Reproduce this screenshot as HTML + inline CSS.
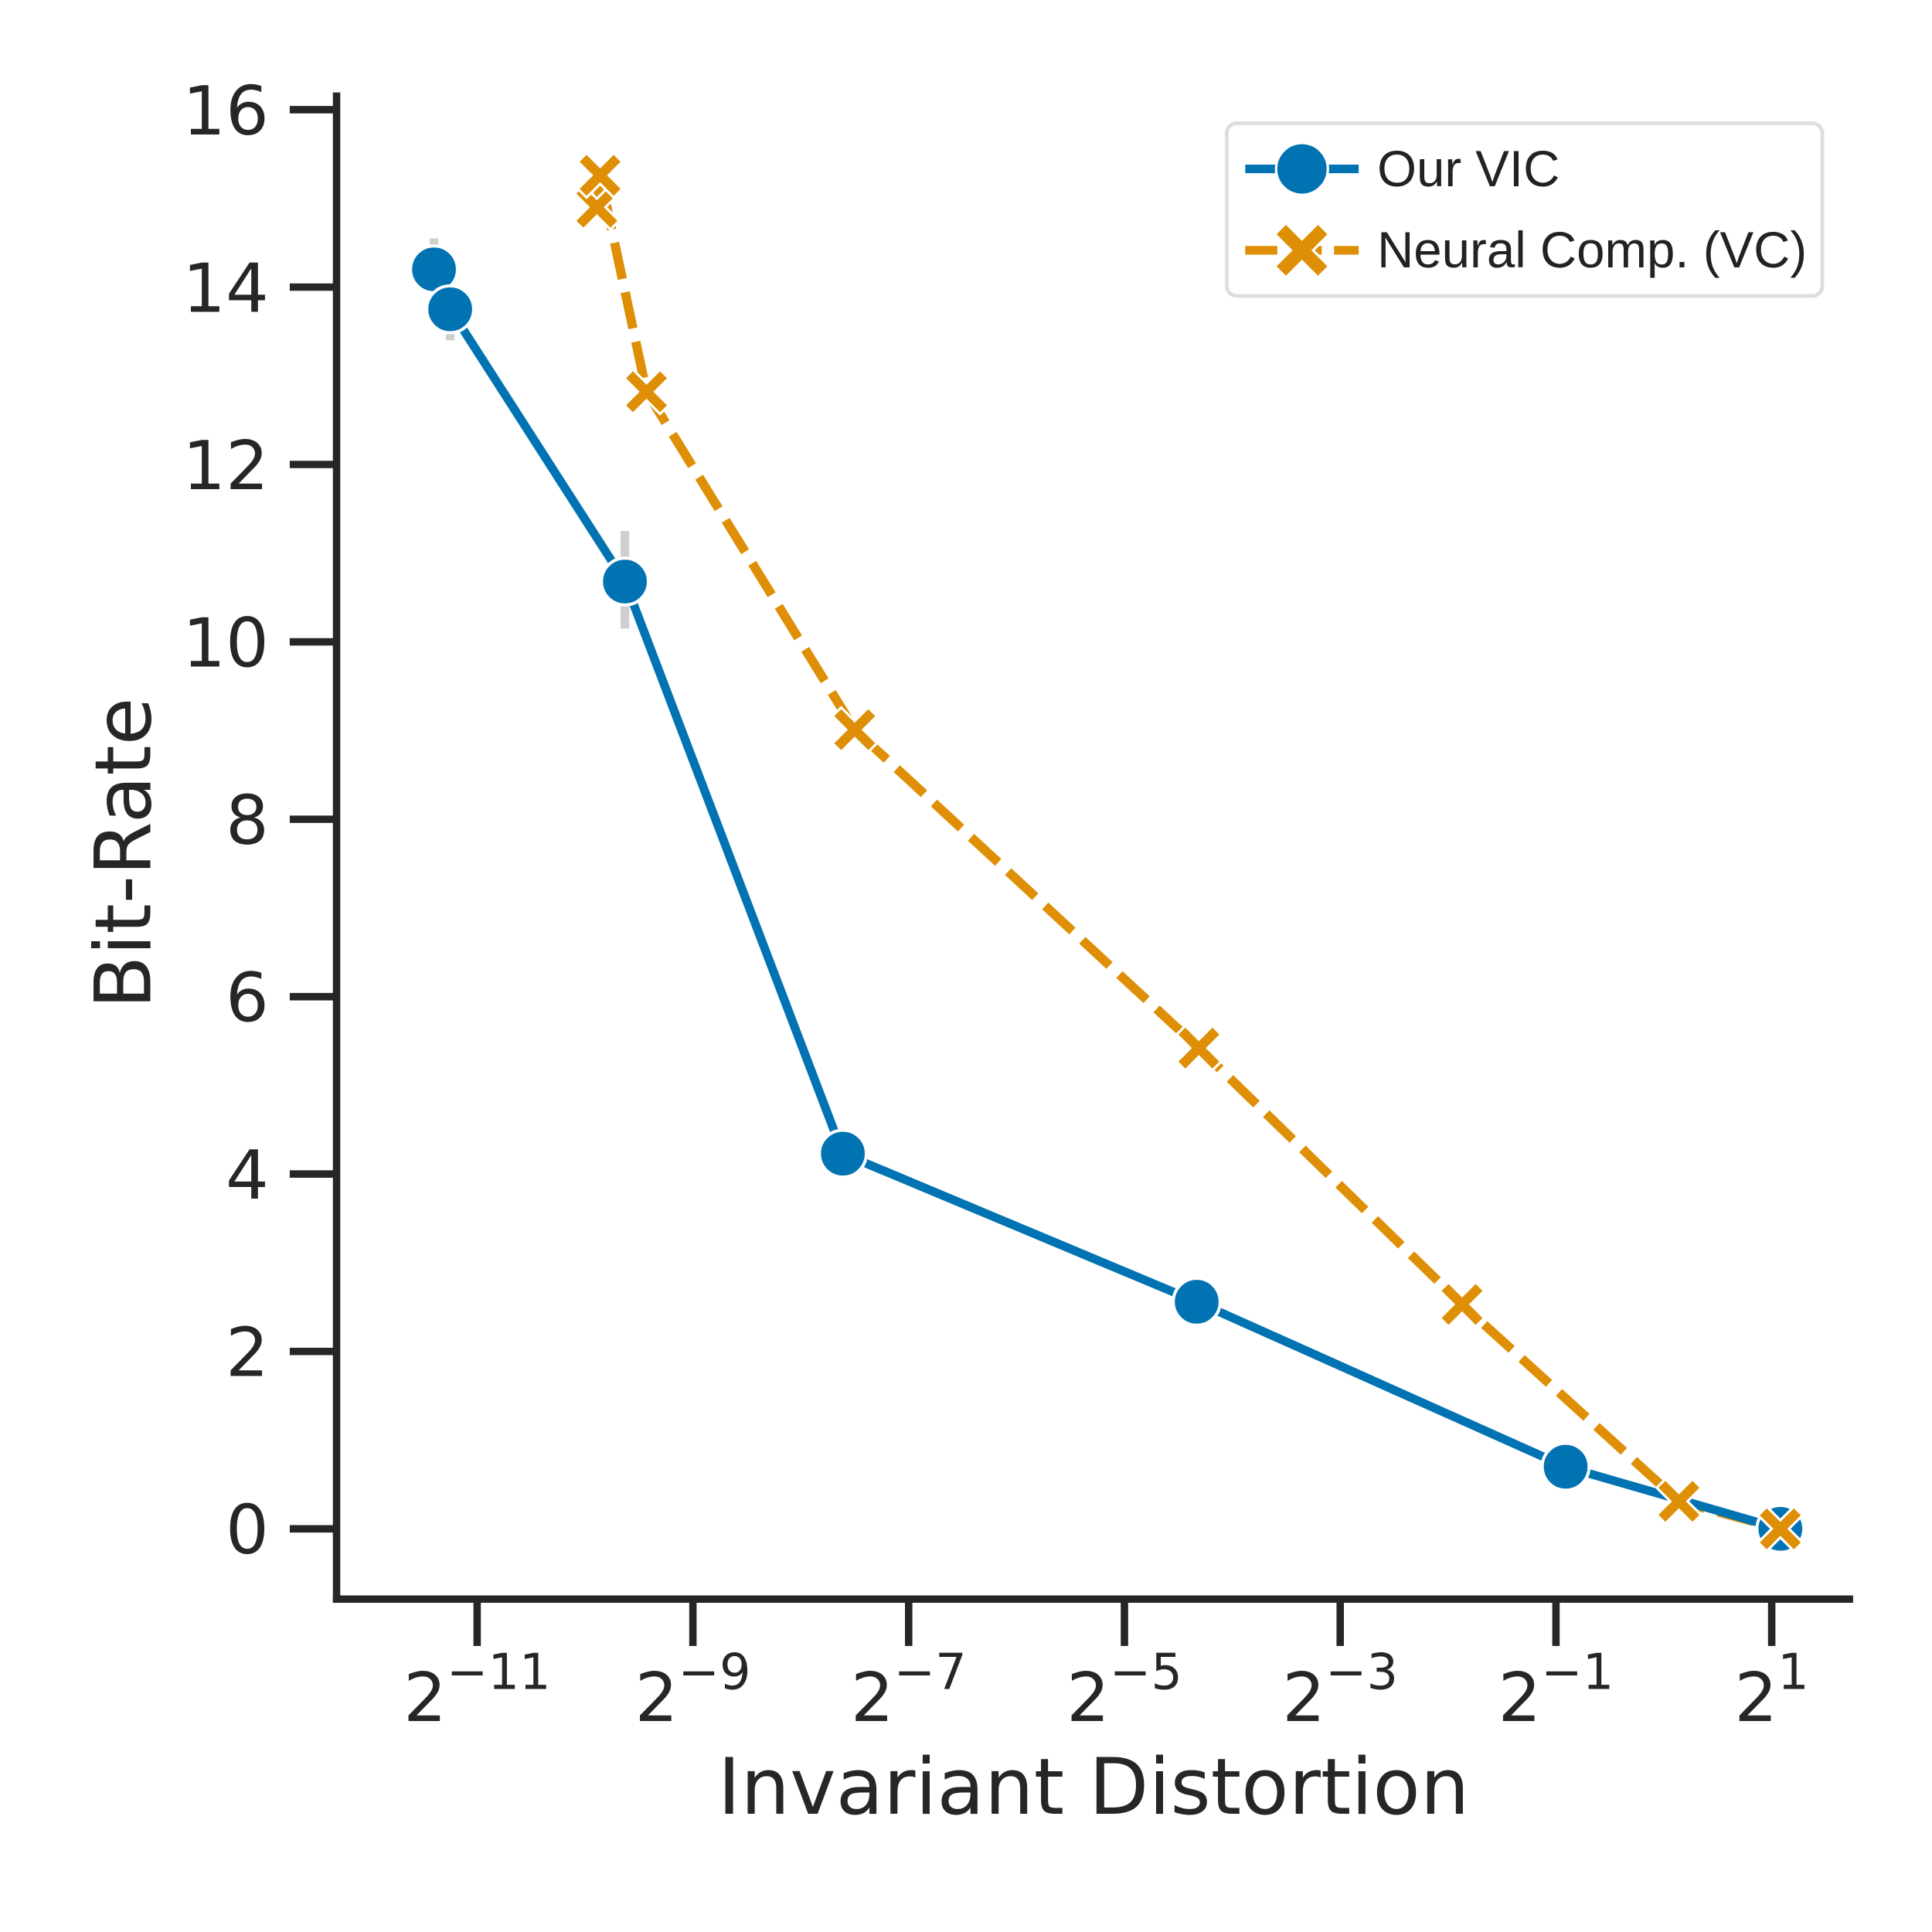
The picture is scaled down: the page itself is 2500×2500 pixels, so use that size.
<!DOCTYPE html>
<html><head><meta charset="utf-8"><style>
html,body{margin:0;padding:0;background:#fff;}
svg{display:block;}
</style></head><body>
<svg id="chart" width="2500" height="2500" viewBox="0 0 1567 1567" xmlns="http://www.w3.org/2000/svg">
<g id="axes"></g>
<g id="series"></g>
<g id="legend">
  <rect x="995" y="100" width="483" height="140" rx="8" fill="#fff" stroke="#ddd" stroke-width="3"/>
  <g>
    <line x1="1010" y1="137" x2="1102" y2="137" stroke="#0173b2" stroke-width="7"/>
    <circle cx="1056" cy="137" r="21" fill="#0173b2" stroke="#fff" stroke-width="2"/>
    <text x="1117" y="151" font-family="Liberation Sans, sans-serif" font-size="41" fill="#222">Our VIC</text>
  </g>
  <g>
    <line x1="1010" y1="203" x2="1102" y2="203" stroke="#de8f05" stroke-width="7" stroke-dasharray="26,10"/>
    <path id="legx" d="" fill="#de8f05" stroke="#fff" stroke-width="2"/>
    <text x="1117" y="217" font-family="Liberation Sans, sans-serif" font-size="41" fill="#222">Neural Comp. (VC)</text>
  </g>
</g>
</svg>
<script>
const xTickExps=[-11,-9,-7,-5,-3,-1,1];
const yTicks=[0,2,4,6,8,10,12,14,16];
const vicX=[-11.4,-11.25,-9.63,-7.61,-4.33,-0.91,1.08];
const vicY=[14.2,13.75,10.68,4.23,2.56,0.7,0.0];
const vicErrLo=[14.0,13.4,10.15,4.23,2.56,0.7,0.0];
const vicErrHi=[14.55,14.1,11.25,4.23,2.56,0.7,0.0];
const vcX=[-9.89,-9.86,-9.43,-7.5,-4.31,-1.87,0.14,1.08];
const vcY=[14.9,15.26,12.82,9.01,5.42,2.53,0.31,0.0];

const NS='http://www.w3.org/2000/svg';
const xs=e=>387+(e+11)*87.5;
const ys=v=>1240-v*71.94;
function mk(tag,attrs,parent){const el=document.createElementNS(NS,tag);for(const k in attrs)el.setAttribute(k,attrs[k]);parent.appendChild(el);return el;}
function xPath(cx,cy,s,w){
  const pts=[[-s,-s+w],[-s+w,-s],[0,-w],[s-w,-s],[s,-s+w],[w,0],[s,s-w],[s-w,s],[0,w],[-s+w,s],[-s,s-w],[-w,0]];
  return 'M'+pts.map(p=>(cx+p[0])+','+(cy+p[1])).join('L')+'Z';
}
const axes=document.getElementById('axes');
const ser=document.getElementById('series');
const C='#262626';
let el;
el=mk('line',{x1:273,y1:75,x2:273,y2:1300,stroke:C,'stroke-width':6},axes);


el=mk('line',{x1:270,y1:1297,x2:1503,y2:1297,stroke:C,'stroke-width':6},axes);


yTicks.forEach(v=>{
  const t=mk('line',{x1:235,y1:ys(v),x2:273,y2:ys(v),stroke:C,'stroke-width':6},axes);
  
  
  const l=mk('text',{x:218,y:ys(v)+20,'text-anchor':'end','font-family':'DejaVu Sans, sans-serif','font-size':55,fill:C},axes);
  l.textContent=v;
  
  
});
xTickExps.forEach(e=>{
  const x=xs(e);
  const t=mk('line',{x1:x,y1:1297,x2:x,y2:1335,stroke:C,'stroke-width':6},axes);
  
  
  const l=mk('text',{x:x,y:1396,'text-anchor':'middle','font-family':'DejaVu Sans, sans-serif','font-size':55,fill:C},axes);
  
  
  const b=mk('tspan',{},l);b.textContent='2';
  const s=mk('tspan',{dy:-26,'font-size':40},l);s.textContent=(e<0?'\u2212':'')+Math.abs(e);
});
el=mk('text',{x:887,y:1471,'text-anchor':'middle','font-family':'DejaVu Sans, sans-serif','font-size':63,fill:C},axes);
el.textContent='Invariant Distortion';


el=mk('text',{x:122,y:692,'text-anchor':'middle','font-family':'DejaVu Sans, sans-serif','font-size':63,fill:C,transform:'rotate(-90 122 692)'},axes);
el.textContent='Bit-Rate';



vicX.forEach((x,i)=>{
  if(vicErrHi[i]-vicErrLo[i]>0.01){
    const e=mk('line',{x1:xs(x),y1:ys(vicErrLo[i]),x2:xs(x),y2:ys(vicErrHi[i]),stroke:'#cfcfcf','stroke-width':7},ser);
    
    
  }
});
el=mk('polyline',{points:vcX.map((x,i)=>xs(x)+','+ys(vcY[i])).join(' '),fill:'none',stroke:'#de8f05','stroke-width':7.5,'stroke-dasharray':'30,11'},ser);


el=mk('polyline',{points:vicX.map((x,i)=>xs(x)+','+ys(vicY[i])).join(' '),fill:'none',stroke:'#0173b2','stroke-width':7},ser);


vicX.forEach((x,i)=>{
  const c=mk('circle',{cx:xs(x),cy:ys(vicY[i]),r:19,fill:'#0173b2',stroke:'#fff','stroke-width':2.5},ser);
  
  
});
vcX.forEach((x,i)=>{
  const p=mk('path',{d:xPath(xs(x),ys(vcY[i]),18,7),fill:'#de8f05',stroke:'#fff','stroke-width':2},ser);
  
  
});
document.getElementById('legx').setAttribute('d',xPath(1056,203,22,9));
</script>
</body></html>
